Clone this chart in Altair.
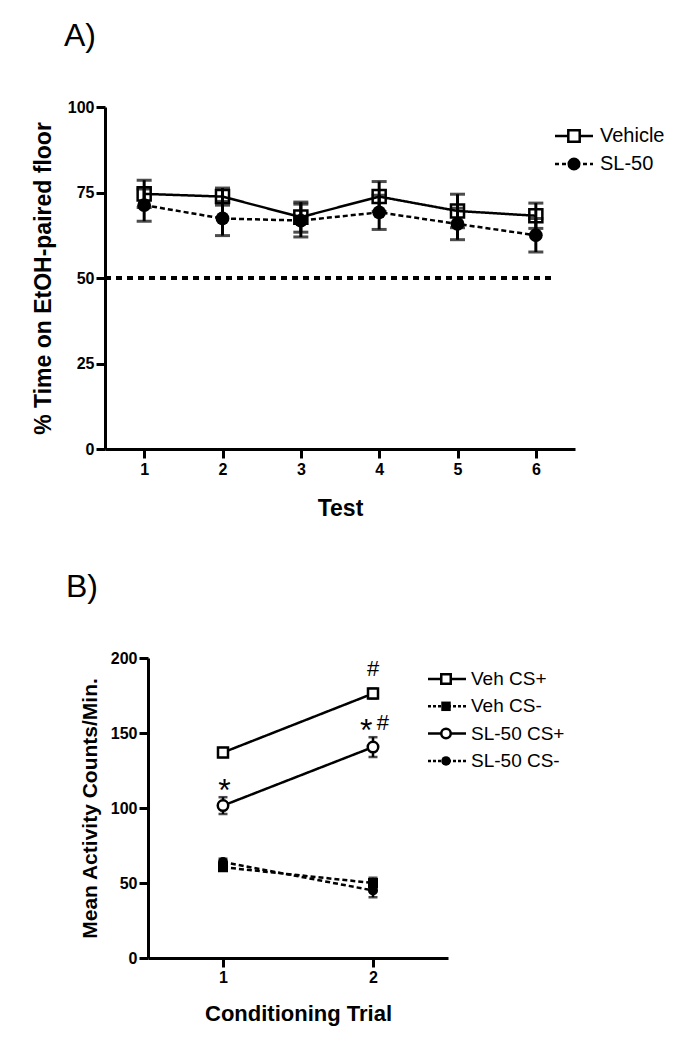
import altair as alt
import pandas as pd

FONT = "Liberation Sans"

# ---------------- Panel A data ----------------
tests = [1, 2, 3, 4, 5, 6]
vehicle_mean = [74.6, 73.8, 67.8, 73.8, 69.6, 68.2]
vehicle_sem = [4.0, 2.5, 4.4, 4.4, 4.9, 3.7]
sl50_mean = [71.3, 67.4, 66.8, 69.2, 65.8, 62.5]
sl50_sem = [4.7, 5.0, 4.8, 5.0, 4.6, 4.9]
groups_a = ["Vehicle", "SL-50"]
chance_level = 50
y_ticks_a = [0, 25, 50, 75, 100]
title_a_y = "% Time on EtOH-paired floor"

# ---------------- Panel B data ----------------
trials = [1, 2]
veh_csp_mean = [137.0, 176.3]
veh_csp_sem = [3.0, 3.3]
veh_csm_mean = [60.5, 50.0]
veh_csm_sem = [2.0, 3.5]
sl_csp_mean = [101.6, 140.6]
sl_csp_sem = [5.6, 6.6]
sl_csm_mean = [64.0, 45.0]
sl_csm_sem = [2.2, 4.5]
groups_b = ["Veh CS+", "Veh CS-", "SL-50 CS+", "SL-50 CS-"]
y_ticks_b = [0, 50, 100, 150, 200]
title_b_y = "Mean Activity Counts/Min."
sig_text = ["#", "*", "#", "*"]
sig_x = [2.0, 1.955, 2.065, 1.01]
sig_y = [193, 157, 157, 117]


def long_df(xs, groups, means, sems):
    rows = []
    for g, m, s in zip(groups, means, sems):
        for x, mi, si in zip(xs, m, s):
            rows.append({"x": x, "group": g, "mean": mi, "lo": mi - si, "hi": mi + si})
    return pd.DataFrame(rows)


df_a = long_df(tests, groups_a, [vehicle_mean, sl50_mean], [vehicle_sem, sl50_sem])
df_b = long_df(trials, groups_b,
               [veh_csp_mean, veh_csm_mean, sl_csp_mean, sl_csm_mean],
               [veh_csp_sem, veh_csm_sem, sl_csp_sem, sl_csm_sem])

axis_common = dict(
    domainColor="black", domainWidth=3, tickColor="black", tickWidth=3,
    tickSize=9, labelColor="black", labelFont=FONT, labelFontWeight="bold",
    labelFontSize=16, titleColor="black", titleFont=FONT, titleFontWeight="bold",
    grid=False,
)

# ---------------- Panel A ----------------
WA, HA = 470, 342
xa = alt.X("x:Q", scale=alt.Scale(domain=[0.5, 6.5], nice=False, zero=False),
           axis=alt.Axis(values=tests, format="d", title="Test", titleFontSize=23,
                         labelPadding=3, titlePadding=20, **axis_common))
ya = alt.Y("mean:Q", scale=alt.Scale(domain=[0, 100], nice=False),
           axis=alt.Axis(values=y_ticks_a, title=title_a_y,
                         titleFontSize=23, labelPadding=2, titlePadding=12, **axis_common))

dash_a = alt.StrokeDash("group:N", scale=alt.Scale(domain=groups_a, range=[[1, 0], [5, 3]]), legend=None)

base_a = alt.Chart(df_a)
lines_a = base_a.mark_line(color="black", strokeWidth=2.5).encode(x=xa, y=ya, strokeDash=dash_a, detail="group:N")
err_a = base_a.mark_errorbar(ticks=True, color="black", thickness=3, size=15).encode(
    x="x:Q", y=alt.Y("lo:Q", title=title_a_y), y2="hi:Q", detail="group:N")

# marker style per group: (shape, filled, fill, size)
marker_a = [("square", False, "transparent", 170), ("circle", True, "black", 190)]
pts_a = []
for g, (shp, filled, fillc, sz) in zip(groups_a, marker_a):
    pts_a.append(base_a.transform_filter(alt.datum.group == g).mark_point(
        color="black", shape=shp, filled=filled, fill=fillc, size=sz, strokeWidth=2.5, opacity=1
    ).encode(x="x:Q", y=alt.Y("mean:Q", title=title_a_y)))

chance_a = alt.Chart(pd.DataFrame({"c": [chance_level]})).mark_rule(
    color="black", strokeWidth=4, strokeDash=[6, 5]).encode(
    y=alt.Y("c:Q", title=title_a_y), x=alt.value(0), x2=alt.value(451))

leg_layers_a = []
leg_style_a = [([1, 0], "square", False, 130), ([4, 3], "circle", True, 170)]
for i, g in enumerate(groups_a):
    yy = 29 + i * 28
    dash, shp, filled, sz = leg_style_a[i]
    d = pd.DataFrame({"label": [g]})
    leg_layers_a.append(alt.Chart(d).mark_rule(color="black", strokeWidth=2.5, strokeDash=dash).encode(
        x=alt.value(450), x2=alt.value(488), y=alt.value(yy)))
    leg_layers_a.append(alt.Chart(d).mark_point(color="black", shape=shp, filled=filled, size=sz,
                                                  strokeWidth=2.5, opacity=1,
                                                  fill="black" if filled else "white").encode(
        x=alt.value(469), y=alt.value(yy)))
    leg_layers_a.append(alt.Chart(d).mark_text(align="left", baseline="middle", font=FONT,
                                                 fontSize=20, color="black").encode(
        x=alt.value(495), y=alt.value(yy), text="label:N"))

panel_a = alt.layer(chance_a, lines_a, err_a, *pts_a, *leg_layers_a).properties(
    width=WA, height=HA,
    title=alt.TitleParams("A)", anchor="start", frame="group", dx=-41, fontSize=32,
                          font=FONT, fontWeight="normal", color="black", offset=46),
)

# ---------------- Panel B ----------------
SHIFT_B = 43          # panel B's axes start this far right of panel A's
WB, HB = 300, 300
xb = alt.X("x:Q", scale=alt.Scale(domain=[0.5, 2.5], nice=False, zero=False, range=[SHIFT_B, SHIFT_B + WB]),
           axis=alt.Axis(values=trials, format="d", title="Conditioning Trial", titleFontSize=22,
                         labelPadding=2, titlePadding=18, **axis_common))
yb = alt.Y("mean:Q", scale=alt.Scale(domain=[0, 200], nice=False),
           axis=alt.Axis(values=y_ticks_b, title=title_b_y, offset=-SHIFT_B,
                         titleFontSize=21, labelPadding=2, titlePadding=10, **axis_common))

dash_b = alt.StrokeDash("group:N", scale=alt.Scale(domain=groups_b, range=[[1, 0], [4, 2], [1, 0], [4, 2]]), legend=None)

base_b = alt.Chart(df_b)
lines_b = base_b.mark_line(color="black", strokeWidth=2.5).encode(x=xb, y=yb, strokeDash=dash_b, detail="group:N")
err_b = base_b.mark_errorbar(ticks=True, color="black", thickness=2.5, size=9).encode(
    x="x:Q", y=alt.Y("lo:Q", title=title_b_y), y2="hi:Q", detail="group:N")

marker_b = [("square", False, "white", 100), ("square", True, "black", 100),
            ("circle", False, "white", 110), ("circle", True, "black", 100)]
pts_b = []
for g, (shp, filled, fillc, sz) in zip(groups_b, marker_b):
    pts_b.append(base_b.transform_filter(alt.datum.group == g).mark_point(
        color="black", shape=shp, filled=filled, fill=fillc, size=sz, strokeWidth=2.5, opacity=1
    ).encode(x="x:Q", y=alt.Y("mean:Q", title=title_b_y)))

sig_df = pd.DataFrame({"t": sig_text, "x": sig_x, "y": sig_y})
sig_hash = alt.Chart(sig_df).transform_filter("datum.t == '#'").mark_text(
    font=FONT, fontSize=22, color="black", baseline="middle").encode(
    x="x:Q", y=alt.Y("y:Q", title=title_b_y), text="t:N")
sig_star = alt.Chart(sig_df).transform_filter("datum.t == '*'").mark_text(
    font=FONT, fontSize=32, color="black", baseline="middle", dy=8).encode(
    x="x:Q", y=alt.Y("y:Q", title=title_b_y), text="t:N")

leg_layers_b = []
leg_style_b = [([1, 0], "square", False), ([3, 2], "square", True),
               ([1, 0], "circle", False), ([3, 2], "circle", True)]
for i, g in enumerate(groups_b):
    yy = 21 + i * 27.3
    dash, shp, filled = leg_style_b[i]
    d = pd.DataFrame({"label": [g]})
    leg_layers_b.append(alt.Chart(d).mark_rule(color="black", strokeWidth=2.5, strokeDash=dash).encode(
        x=alt.value(SHIFT_B + 280), x2=alt.value(SHIFT_B + 318), y=alt.value(yy)))
    leg_layers_b.append(alt.Chart(d).mark_point(color="black", shape=shp, filled=filled, size=90,
                                                  strokeWidth=2.5, opacity=1,
                                                  fill="black" if filled else "white").encode(
        x=alt.value(SHIFT_B + 298), y=alt.value(yy)))
    leg_layers_b.append(alt.Chart(d).mark_text(align="left", baseline="middle", font=FONT,
                                                 fontSize=19, color="black").encode(
        x=alt.value(SHIFT_B + 323), y=alt.value(yy), text="label:N"))

panel_b = alt.layer(lines_b, err_b, *pts_b, sig_hash, sig_star, *leg_layers_b).properties(
    width=SHIFT_B + WB, height=HB,
    title=alt.TitleParams("B)", anchor="start", frame="group", dx=-39, fontSize=32,
                          font=FONT, fontWeight="normal", color="black", offset=46),
)

chart = alt.vconcat(panel_a, panel_b, spacing=51).properties(
    padding={"left": 24, "top": 12, "right": 5, "bottom": 5}
).configure(font=FONT, view=alt.ViewConfig(strokeWidth=0, stroke="transparent"))

chart.save("out.html", embed_options={"renderer": "svg", "actions": False})
